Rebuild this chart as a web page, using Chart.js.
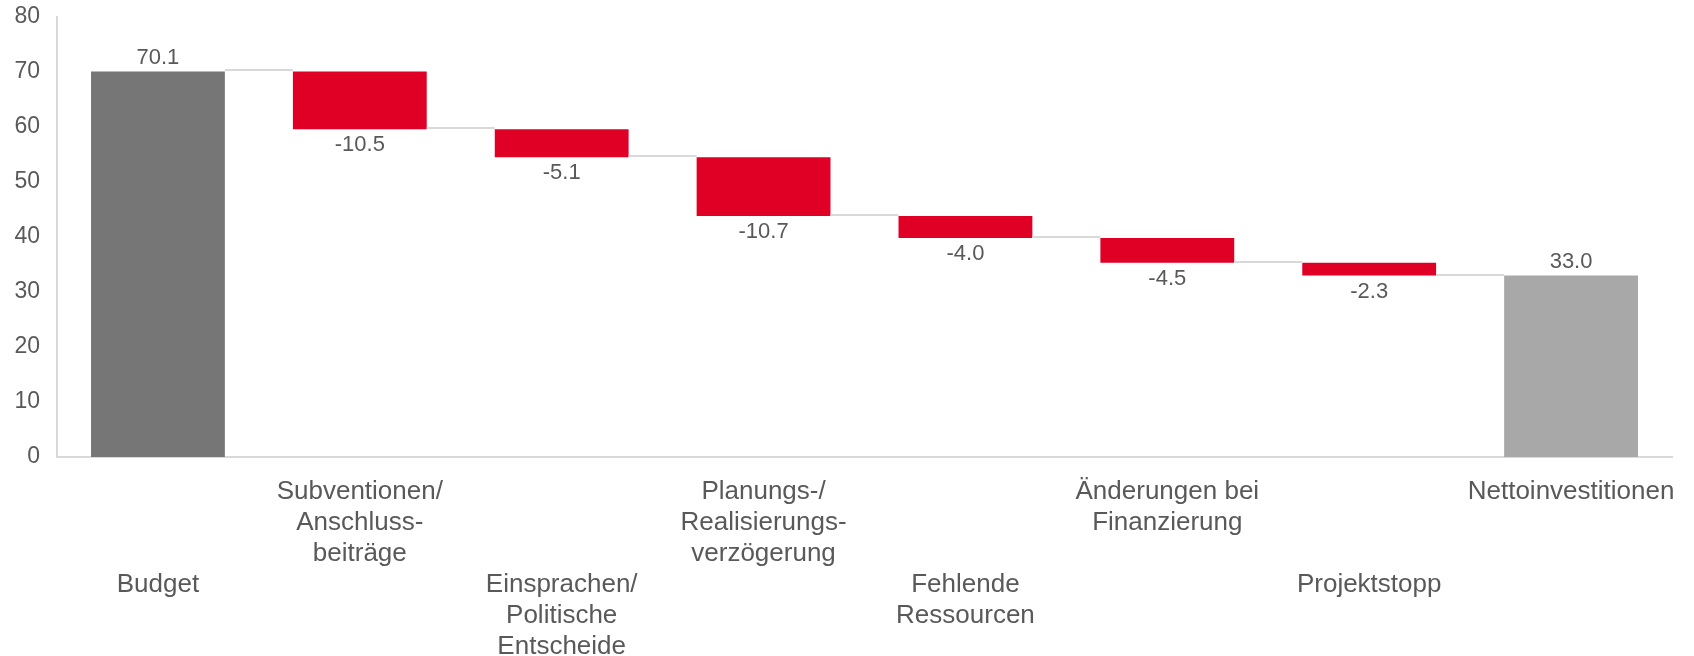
<!DOCTYPE html>
<html>
<head>
<meta charset="utf-8">
<script src="https://cdn.jsdelivr.net/npm/chart.js@4/dist/chart.umd.min.js"></script>
<style>
  html, body { margin: 0; padding: 0; background: #fff; overflow: hidden; height: 656px; }
  canvas { display: block; }
</style>
</head>
<body>
<canvas id="waterfall" width="1694" height="663"></canvas>
<script>
// categories, each one an array of label lines
const categories = [
    ['Budget'],
    ['Subventionen/', 'Anschluss-', 'beiträge'],
    ['Einsprachen/', 'Politische', 'Entscheide'],
    ['Planungs-/', 'Realisierungs-', 'verzögerung'],
    ['Fehlende', 'Ressourcen'],
    ['Änderungen bei', 'Finanzierung'],
    ['Projektstopp'],
    ['Nettoinvestitionen']
]
const budget = 70.1
const changes = [-10.5, -5.1, -10.7, -4.0, -4.5, -2.3]
const netInvestment = 33.0
const yTicks = [0, 10, 20, 30, 40, 50, 60, 70, 80]

const colorStart = '#767676'
const colorChange = '#e00026'
const colorEnd = '#a8a8a8'
const textColor = '#595959'
const lineColor = '#d9d9d9'
const fontFamily = '"Liberation Sans", Arial, sans-serif'

// build floating bars [from, to] out of the values
let bars = [[0, budget]]
let values = [budget]
let colors = [colorStart]
let levels = [budget]   // running total after each bar
let total = budget
changes.forEach(c => {
    const next = Math.round((total + c) * 10) / 10
    bars.push([next, total])
    values.push(c)
    colors.push(colorChange)
    levels.push(next)
    total = next
})
bars.push([0, netInvestment])
values.push(netInvestment)
colors.push(colorEnd)
levels.push(netInvestment)

const connectors = {
    id: 'connectors',
    afterDatasetsDraw(chart) {
        const ctx = chart.ctx
        const meta = chart.getDatasetMeta(0)
        const y = chart.scales.y
        ctx.save()
        ctx.strokeStyle = lineColor
        ctx.lineWidth = 2
        for (let i = 0; i < meta.data.length - 1; i++) {
            const a = meta.data[i]
            const b = meta.data[i + 1]
            const py = Math.round(y.getPixelForValue(levels[i])) - 1
            ctx.beginPath()
            ctx.moveTo(a.x + a.width / 2, py)
            ctx.lineTo(b.x - b.width / 2, py)
            ctx.stroke()
        }
        ctx.restore()
    }
}

const valueLabels = {
    id: 'valueLabels',
    afterDatasetsDraw(chart) {
        const ctx = chart.ctx
        const meta = chart.getDatasetMeta(0)
        const y = chart.scales.y
        ctx.save()
        ctx.font = '22px ' + fontFamily
        ctx.fillStyle = textColor
        ctx.textAlign = 'center'
        meta.data.forEach((bar, i) => {
            const v = values[i]
            const text = v.toFixed(1)
            if (v < 0) {
                ctx.textBaseline = 'top'
                ctx.fillText(text, bar.x, y.getPixelForValue(bars[i][0]) + 5)
            } else {
                ctx.textBaseline = 'bottom'
                ctx.fillText(text, bar.x, y.getPixelForValue(bars[i][1]) - 3)
            }
        })
        ctx.restore()
    }
}

const ctx = document.getElementById('waterfall').getContext('2d')
const chart = new Chart(ctx, {
    type: 'bar',
    data: {
        labels: categories,
        datasets: [{
            data: bars,
            backgroundColor: colors,
            borderWidth: 0,
            barPercentage: 0.663,
            categoryPercentage: 1
        }]
    },
    options: {
        responsive: false,
        animation: false,
        layout: {
            padding: { top: 17, left: 15, right: 22, bottom: 0 }
        },
        plugins: {
            legend: { display: false },
            tooltip: { enabled: false }
        },
        scales: {
            x: {
                grid: { display: false, drawTicks: false },
                border: { color: lineColor, width: 2 },
                afterFit: axis => {
                    axis.height = 206
                    axis.paddingLeft = 0
                    axis.paddingRight = 0
                },
                ticks: {
                    color: textColor,
                    padding: 19,
                    maxRotation: 0,
                    autoSkip: false,
                    font: { family: fontFamily, size: 26, lineHeight: 31 / 26 },
                    // every second label sits three lines lower, as in the source
                    callback: function (value, index) {
                        const lines = categories[index]
                        return index % 2 === 0 ? ['', '', ''].concat(lines) : lines
                    }
                }
            },
            y: {
                min: 0,
                max: 80,
                afterBuildTicks: axis => {
                    axis.ticks = yTicks.map(v => ({ value: v }))
                },
                afterFit: axis => {
                    axis.width = 42
                    axis.paddingTop = 0
                    axis.paddingBottom = 0
                },
                grid: { display: false, drawTicks: false },
                border: { color: lineColor, width: 2 },
                ticks: {
                    color: textColor,
                    padding: 17,
                    font: { family: fontFamily, size: 23, lineHeight: 1.2 }
                }
            }
        }
    },
    plugins: [connectors, valueLabels]
})
</script>
</body>
</html>
